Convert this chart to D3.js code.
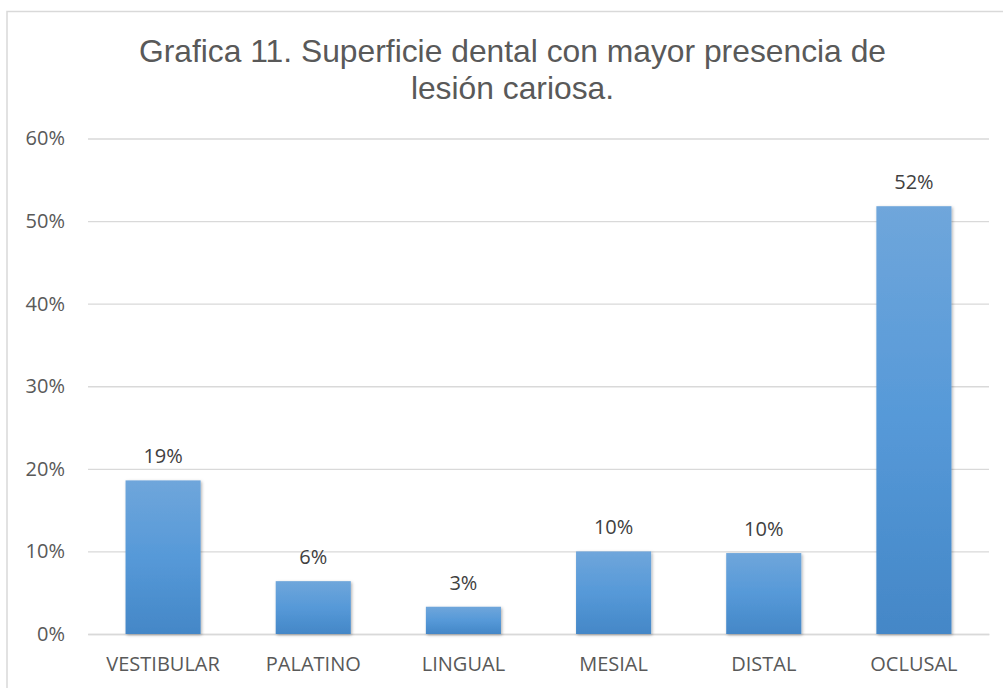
<!DOCTYPE html>
<html>
<head>
<meta charset="utf-8">
<script src="https://cdn.jsdelivr.net/npm/d3@7"></script>
<style>
  html, body { margin: 0; padding: 0; background: #fff; }
  svg { display: block; }
</style>
</head>
<body>
<svg id="chart" width="1003" height="688"></svg>
<script>
// Surfaces and share of carious lesions found on each
const categories = ["VESTIBULAR", "PALATINO", "LINGUAL", "MESIAL", "DISTAL", "OCLUSAL"];
const values = [0.186, 0.064, 0.033, 0.100, 0.098, 0.518];
const yTicks = [0, 0.1, 0.2, 0.3, 0.4, 0.5, 0.6];
const titleLines = ["Grafica 11. Superficie dental con mayor presencia de", "lesión cariosa."];

const svg = d3.select("#chart");
const W = 1003, H = 688;
const plot = { left: 88, right: 989, top: 138.5, bottom: 634 };

const defs = svg.append("defs");
const grad = defs.append("linearGradient")
  .attr("id", "barFill").attr("x1", 0).attr("y1", 0).attr("x2", 0).attr("y2", 1);
grad.append("stop").attr("offset", "0%").attr("stop-color", "#6fa6db");
grad.append("stop").attr("offset", "50%").attr("stop-color", "#5699d8");
grad.append("stop").attr("offset", "100%").attr("stop-color", "#4487c7");

const shadow = defs.append("filter").attr("id", "barShadow")
  .attr("x", "-20%").attr("y", "-20%").attr("width", "140%").attr("height", "140%");
shadow.append("feDropShadow")
  .attr("dx", 1.2).attr("dy", 1.2).attr("stdDeviation", 1.6)
  .attr("flood-color", "#000").attr("flood-opacity", 0.3);

// chart frame
svg.append("rect")
  .attr("x", 7).attr("y", 11.5).attr("width", W + 20).attr("height", H + 20)
  .attr("fill", "#fff").attr("stroke", "#d9d9d9").attr("stroke-width", 1.5);

// title
const title = svg.append("text")
  .attr("text-anchor", "middle")
  .attr("font-family", "'Liberation Sans', Arial, sans-serif")
  .attr("font-size", 31.8)
  .attr("fill", "#595959");
titleLines.forEach((t, i) => {
  title.append("tspan").attr("x", 512.5).attr("y", 62 + i * 37).text(t);
});

const x = d3.scaleBand()
  .domain(categories)
  .range([plot.left, plot.right])
  .paddingInner(0.5)
  .paddingOuter(0.25);

const y = d3.scaleLinear()
  .domain([0, 0.6])
  .range([plot.bottom, plot.top]);

const fmt = d3.format(".0%");

// horizontal gridlines + y tick labels
const yAxis = d3.axisLeft(y)
  .tickValues(yTicks)
  .tickFormat(fmt)
  .tickSize(-(plot.right - plot.left))
  .tickPadding(23);

const gy = svg.append("g")
  .attr("transform", `translate(${plot.left},0)`)
  .call(yAxis);
gy.select(".domain").remove();
gy.selectAll(".tick line")
  .attr("stroke", "#d9d9d9")
  .attr("stroke-width", 1.4);
gy.selectAll(".tick text")
  .attr("font-family", "'Open Sans', 'Noto Sans', sans-serif")
  .attr("font-size", 20)
  .attr("fill", "#595959");

// category axis
const xAxis = d3.axisBottom(x).tickSize(0).tickPadding(23);
const gx = svg.append("g")
  .attr("transform", `translate(0,${plot.bottom})`)
  .call(xAxis);
gx.select(".domain")
  .attr("stroke", "#d9d9d9")
  .attr("stroke-width", 1.6);
gx.selectAll(".tick text")
  .attr("font-family", "'Open Sans', 'Noto Sans', sans-serif")
  .attr("font-size", 20)
  .attr("fill", "#595959");

// bars
svg.append("g")
  .selectAll("rect")
  .data(values)
  .join("rect")
  .attr("x", (d, i) => x(categories[i]))
  .attr("y", d => y(d))
  .attr("width", x.bandwidth())
  .attr("height", d => y(0) - y(d))
  .attr("fill", "url(#barFill)")
  .attr("filter", "url(#barShadow)");

// value labels
svg.append("g")
  .selectAll("text")
  .data(values)
  .join("text")
  .attr("x", (d, i) => x(categories[i]) + x.bandwidth() / 2)
  .attr("y", d => y(d) - 17)
  .attr("text-anchor", "middle")
  .attr("font-family", "'Open Sans', 'Noto Sans', sans-serif")
  .attr("font-size", 20)
  .attr("fill", "#404040")
  .text(d => fmt(d));
</script>
</body>
</html>
